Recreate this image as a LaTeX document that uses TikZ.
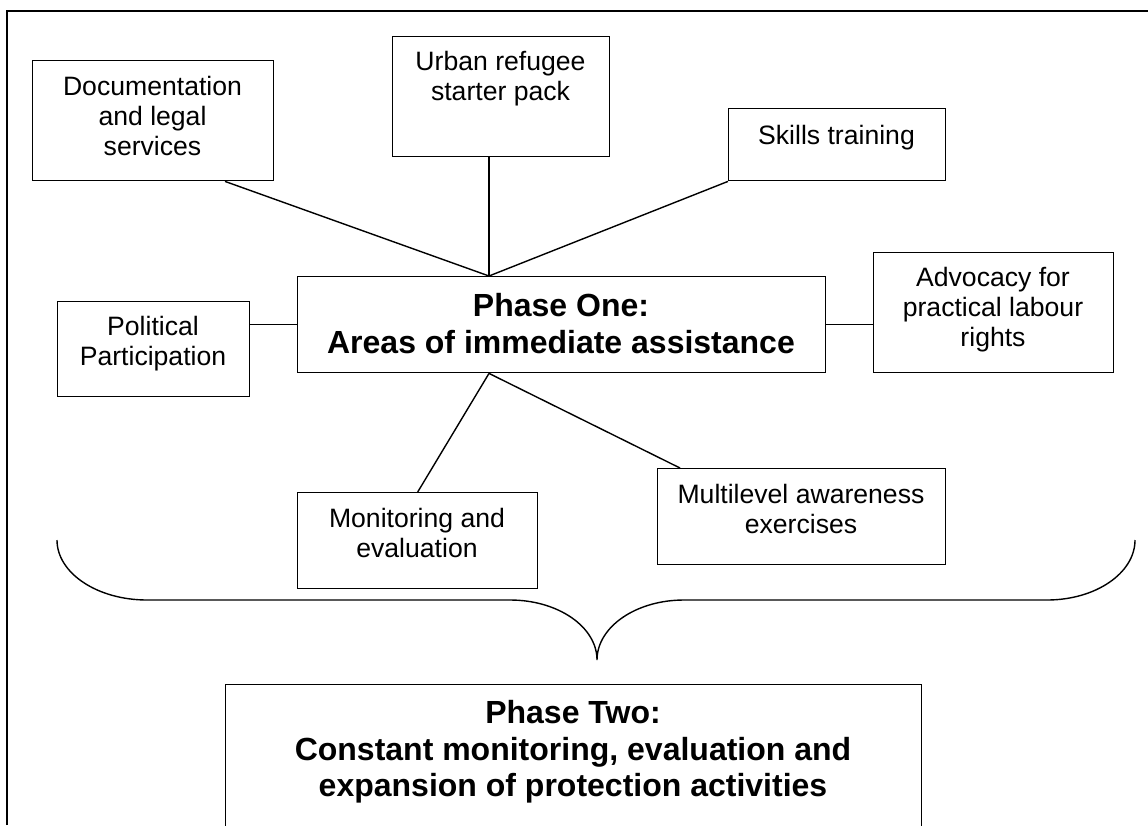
\documentclass[tikz,border=0pt]{standalone}
\usepackage{fontspec}
\setmainfont{Liberation Sans}
\usetikzlibrary{calc}
\begin{document}
\begin{tikzpicture}[x=1pt,y=-1pt,
  ln/.style={line width=1.4pt, line join=miter},
  box/.style={draw, line width=1.4pt, anchor=north west, inner sep=0pt},
  txt/.style={font=\fontsize{26.6}{30}\selectfont, align=center, inner sep=0pt,
    execute at begin node=\strut, execute at end node=\strut},
  btxt/.style={font=\fontsize{32}{36.8}\selectfont\bfseries, align=center, inner sep=0pt,
    execute at begin node=\strut, execute at end node=\strut}]
\useasboundingbox (0,0) rectangle (1148,825);
\clip (0,0) rectangle (1148,825);
\fill[white] (0,0) rectangle (1148,825);

% outer frame (top and left edges visible)
\draw[ln] (7,825) -- (7,11) -- (1148,11);

% boxes
\node[box, minimum width=241pt, minimum height=120pt] (doc) at (32,60) {};
\node[box, minimum width=217pt, minimum height=120pt] (urban) at (392,36) {};
\node[box, minimum width=217pt, minimum height=72pt] (skills) at (728,108) {};
\node[box, minimum width=528pt, minimum height=96pt] (p1) at (297,276) {};
\node[box, minimum width=192pt, minimum height=95pt] (pol) at (57,301) {};
\node[box, minimum width=240pt, minimum height=120pt] (adv) at (873,252) {};
\node[box, minimum width=240pt, minimum height=96pt] (mon) at (297,492) {};
\node[box, minimum width=288pt, minimum height=96pt] (multi) at (657,468) {};
\node[box, minimum width=696pt, minimum height=220pt] (p2) at (225,684) {};

% texts
\node[txt] (docT) at (152.5,120.6) {Documentation\\and legal\\services};
\node[txt] (urbanT) at (500.5,80.4) {Urban refugee\\starter pack};
\node[txt] (skillsT) at (836.5,138.6) {Skills training};
\node[btxt] (p1T) at (561,329.1) {Phase One:\\Areas of immediate assistance};
\node[txt] (polT) at (153,345.4) {Political\\Participation};
\node[txt] (advT) at (993,311.6) {Advocacy for\\practical labour\\rights};
\node[txt] (monT) at (417,537.1) {Monitoring and\\evaluation};
\node[txt] (multiT) at (801,513.6) {Multilevel awareness\\exercises};
\node[btxt] (p2T) at (573,754.1) {Phase Two:\\Constant monitoring, evaluation and\\expansion of protection activities};

% connectors
\draw[ln] ([xshift=193pt]doc.south west) -- ([xshift=192pt]p1.north west);
\draw[ln] ([xshift=97pt]urban.south west) -- ([xshift=192pt]p1.north west);
\draw[ln] (skills.south west) -- ([xshift=192pt]p1.north west);
\draw[ln] (pol.east |- p1.west) -- (p1.west);
\draw[ln] (p1.east) -- (p1.east -| adv.west);
\draw[ln] ([xshift=192pt]p1.south west) -- (mon.north);
\draw[ln] ([xshift=192pt]p1.south west) -- ([xshift=23pt]multi.north west);

% brace
\draw[ln] (57,540) .. controls (57,573.1) and (97.3,600) .. (147,600)
  -- (510,600) .. controls (558.1,600) and (597,626.9) .. (597,660)
  .. controls (597,626.9) and (635.9,600) .. (684,600)
  -- (1047,600) .. controls (1095.6,600) and (1135,573.1) .. (1135,540);
\end{tikzpicture}
\end{document}
